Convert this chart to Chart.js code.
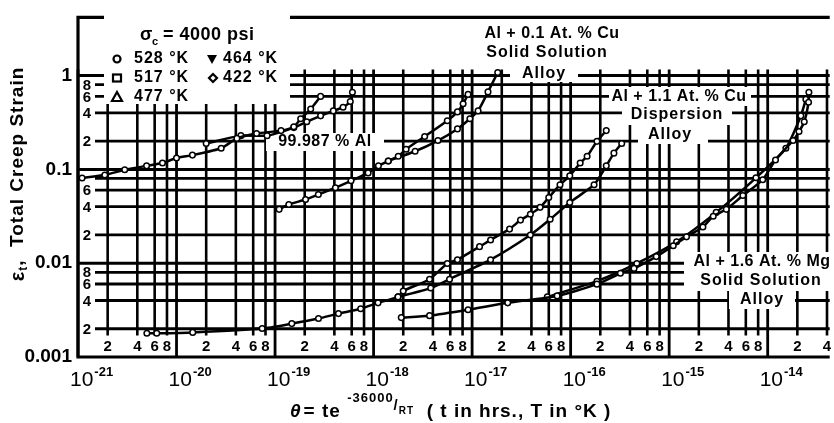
<!DOCTYPE html>
<html>
<head>
<meta charset="utf-8">
<script src="https://cdn.jsdelivr.net/npm/chart.js@4.4.1/dist/chart.umd.min.js"></script>
<style>
  html, body { margin: 0; padding: 0; background: #fff; }
  #wrap { width: 834px; height: 423px; }
</style>
</head>
<body>
<div id="wrap"><canvas id="chart" width="834" height="423"></canvas></div>
<script>
// Values: theta = t*exp(-36000/RT) (hrs) vs total creep strain

// 99.987 % Al
const alThetaA  = [1.1e-21, 1.87e-21, 2.98e-21, 4.97e-21, 7.2e-21, 1.0e-20, 1.45e-20, 2.84e-20, 4.1e-20, 6.5e-20, 1.15e-19, 1.55e-19, 1.82e-19, 2.3e-19, 2.9e-19];
const alStrainA = [0.081, 0.087, 0.099, 0.109, 0.117, 0.132, 0.142, 0.168, 0.214, 0.241, 0.259, 0.285, 0.346, 0.44, 0.60];
const alThetaB  = [2.0e-20, 4.5e-20, 8.3e-20, 1.55e-19, 2.1e-19, 2.9e-19, 3.9e-19, 4.9e-19, 5.8e-19, 6.1e-19];
const alStrainB = [0.189, 0.229, 0.229, 0.279, 0.322, 0.372, 0.42, 0.46, 0.53, 0.665];

// Al + 0.1 At.% Cu solid solution alloy
const cu01ThetaA  = [1.1e-19, 1.38e-19, 2.04e-19, 2.75e-19, 4.1e-19, 5.9e-19, 8.8e-19, 1.12e-18, 1.41e-18, 1.78e-18, 2.14e-18, 3.3e-18, 5.6e-18, 7.1e-18, 8.1e-18, 9.1e-18];
const cu01StrainA = [0.0375, 0.0423, 0.0477, 0.0539, 0.0638, 0.0756, 0.0917, 0.109, 0.123, 0.138, 0.164, 0.224, 0.33, 0.41, 0.50, 0.63];
const cu01ThetaB  = [1.41e-18, 2.64e-18, 4.5e-18, 7.1e-18, 9.5e-18, 1.15e-17, 1.45e-17, 1.82e-17];
const cu01StrainB = [0.123, 0.156, 0.203, 0.27, 0.346, 0.42, 0.67, 1.08];

// Al + 1.1 At.% Cu dispersion alloy
const cu11ThetaA  = [5.0e-21, 6.3e-21, 1.46e-20, 7.4e-20, 1.48e-19, 2.76e-19, 4.4e-19, 7.4e-19, 1.11e-18, 1.77e-18, 2.0e-18, 3.7e-18, 5.6e-18, 7.1e-18, 1.19e-17, 1.54e-17, 2.4e-17, 3.1e-17, 3.9e-17, 4.9e-17, 6.0e-17, 7.8e-17, 9.8e-17, 1.25e-16, 1.47e-16, 1.85e-16, 2.3e-16];
const cu11StrainA = [0.00179, 0.00179, 0.00183, 0.00201, 0.00227, 0.00257, 0.0029, 0.00327, 0.00378, 0.00437, 0.00505, 0.00675, 0.00993, 0.0109, 0.0150, 0.0177, 0.0231, 0.0288, 0.0333, 0.0394, 0.0501, 0.0686, 0.0853, 0.117, 0.138, 0.199, 0.259];
const cu11ThetaB  = [1.77e-18, 3.8e-18, 5.9e-18, 1.54e-17, 3.9e-17, 6.2e-17, 9.8e-17, 1.73e-16, 2.3e-16, 2.75e-16, 3.3e-16];
const cu11StrainB = [0.00437, 0.00543, 0.00675, 0.0109, 0.0200, 0.0294, 0.0444, 0.0686, 0.109, 0.149, 0.189];

// Al + 1.6 At.% Mg solid solution alloy
const mgThetaA  = [1.91e-18, 3.7e-18, 9.1e-18, 2.3e-17, 7.3e-17, 1.85e-16, 3.2e-16, 4.4e-16, 7.4e-16, 1.1e-15, 1.5e-15, 2.2e-15, 2.8e-15, 3.8e-15, 5.6e-15, 8.9e-15, 1.2e-14, 1.81e-14, 2.08e-14, 2.35e-14, 2.6e-14, 2.62e-14];
const mgStrainA = [0.00263, 0.00276, 0.00319, 0.00378, 0.00448, 0.00598, 0.0078, 0.0088, 0.01175, 0.01535, 0.0191, 0.0243, 0.0317, 0.0375, 0.0526, 0.0775, 0.126, 0.203, 0.253, 0.322, 0.52, 0.665];
const mgThetaB  = [5.8e-17, 1.85e-16, 4.7e-16, 1.19e-15, 3.0e-15, 7.6e-15, 1.53e-14, 2.17e-14, 2.44e-14];
const mgStrainB = [0.00437, 0.00643, 0.00993, 0.0169, 0.0348, 0.0813, 0.168, 0.372, 0.56];

// axis ranges and grid values
const thetaMin = 1e-21, thetaMax = 4.26e-14;
const strainMin = 0.001, strainMax = 4.17;
const xDecades = [-21, -20, -19, -18, -17, -16, -15, -14];
const xMinorMult = [2, 4, 6, 8];
const yMajor = [0.001, 0.01, 0.1, 1];
const yMajorLabels = ['0.001', '0.01', '0.1', '1'];
const yMinor = [0.002, 0.004, 0.006, 0.008, 0.02, 0.04, 0.06, 0.08, 0.2, 0.4, 0.6, 0.8];
const yMinorLabels = ['2', '4', '6', '8', '2', '4', '6', '', '2', '4', '6', '8'];
const gridTop = 1.16;

const FONT = '"Liberation Sans", Arial, sans-serif';

function pts(xs, ys) {
    return xs.map((x, i) => ({ x: x, y: ys[i] }));
}

function series(label, xs, ys) {
    return {
        label: label,
        data: pts(xs, ys),
        showLine: true,
        borderColor: '#000',
        borderWidth: 2.5,
        tension: 0.2,
        pointRadius: 2.8,
        pointHoverRadius: 2.8,
        pointBackgroundColor: '#fff',
        pointBorderColor: '#000',
        pointBorderWidth: 1.5,
    };
}

function text(ctx, s, x, y, size, align, spacing) {
    ctx.font = 'bold ' + size + 'px ' + FONT;
    ctx.letterSpacing = (spacing || 0) + 'px';
    ctx.textAlign = align || 'center';
    ctx.textBaseline = 'middle';
    ctx.fillText(s, x, y);
    ctx.letterSpacing = '0px';
}

// grid, frame, labels and notes drawn beneath the data
const paper = {
    id: 'paper',
    beforeDatasetsDraw(chart) {
        const { ctx, chartArea: a, scales: { x, y } } = chart;
        ctx.save();
        ctx.strokeStyle = '#000';
        ctx.fillStyle = '#000';

        const yTop = y.getPixelForValue(gridTop);
        const yStub = y.getPixelForValue(0.0017);

        // vertical grid
        xDecades.forEach(d => {
            const px = x.getPixelForValue(Math.pow(10, d));
            ctx.lineWidth = 2.8;
            ctx.beginPath(); ctx.moveTo(px, yTop); ctx.lineTo(px, a.bottom); ctx.stroke();
            xMinorMult.forEach(m => {
                const v = m * Math.pow(10, d);
                if (v > thetaMax) return;
                const mx = x.getPixelForValue(v);
                ctx.lineWidth = 2.6;
                ctx.beginPath(); ctx.moveTo(mx, yTop); ctx.lineTo(mx, yStub); ctx.stroke();
                text(ctx, String(m), mx, a.bottom - 10, 15);
            });
        });

        // horizontal grid
        yMajor.forEach(v => {
            if (v <= strainMin) return;
            const py = y.getPixelForValue(v);
            ctx.lineWidth = 3;
            ctx.beginPath(); ctx.moveTo(a.left, py); ctx.lineTo(a.right, py); ctx.stroke();
        });
        yMinor.forEach((v, i) => {
            const py = y.getPixelForValue(v);
            ctx.lineWidth = 2.8;
            ctx.beginPath(); ctx.moveTo(a.left + 17, py); ctx.lineTo(a.right, py); ctx.stroke();
            if (yMinorLabels[i]) text(ctx, yMinorLabels[i], a.left + 9, py + 1, 15);
        });

        // frame (right edge is cut off in the scan)
        ctx.lineWidth = 3.2;
        ctx.beginPath();
        ctx.moveTo(a.right, a.top); ctx.lineTo(a.left, a.top);
        ctx.lineTo(a.left, a.bottom); ctx.lineTo(a.right, a.bottom);
        ctx.stroke();

        // white patches behind the notes
        ctx.fillStyle = '#fff';
        const boxes = [
            [104, 15, 186, 89], [266, 133, 118, 18],
            [476, 22, 154, 42], [510, 64, 68, 18],
            [609, 87, 142, 19], [622, 106, 110, 19], [638, 125, 70, 19],
            [684, 252, 150, 39], [729, 291, 66, 18],
        ];
        boxes.forEach(b => ctx.fillRect(b[0], b[1], b[2], b[3]));
        ctx.fillStyle = '#000';

        // legend
        ctx.textAlign = 'left';
        ctx.textBaseline = 'middle';
        ctx.font = 'bold 18px ' + FONT;
        ctx.fillText('σ', 140, 35);
        ctx.font = 'bold 11px ' + FONT;
        ctx.fillText('c', 152, 42);
        text(ctx, '= 4000 psi', 163, 35, 18, 'left', 0.5);

        text(ctx, '528 °K', 134, 59, 16, 'left', 1);
        text(ctx, '464 °K', 223, 59, 16, 'left', 1);
        text(ctx, '517 °K', 134, 78, 16, 'left', 1);
        text(ctx, '422 °K', 223, 78, 16, 'left', 1);
        text(ctx, '477 °K', 134, 97, 16, 'left', 1);

        ctx.lineWidth = 2.2;
        ctx.beginPath(); ctx.arc(117, 59, 3.5, 0, Math.PI * 2); ctx.stroke();
        ctx.strokeRect(113, 74.5, 8, 7);
        ctx.beginPath(); ctx.moveTo(117, 92); ctx.lineTo(122, 101); ctx.lineTo(112, 101); ctx.closePath(); ctx.stroke();
        ctx.beginPath(); ctx.moveTo(207, 55); ctx.lineTo(217, 55); ctx.lineTo(212, 64); ctx.closePath(); ctx.fill();
        ctx.beginPath(); ctx.moveTo(213, 74); ctx.lineTo(217, 78); ctx.lineTo(213, 82); ctx.lineTo(209, 78); ctx.closePath(); ctx.stroke();

        // notes on the curves
        text(ctx, '99.987 % Al', 325, 142, 16, 'center', 0.5);
        text(ctx, 'Al + 0.1 At. % Cu', 552, 34, 16, 'center', 0.5);
        text(ctx, 'Solid Solution', 547, 53, 16, 'center', 1);
        text(ctx, 'Alloy', 544, 74, 16, 'center', 1);
        text(ctx, 'Al + 1.1 At. % Cu', 679, 97, 16, 'center', 0.5);
        text(ctx, 'Dispersion', 677, 115, 16, 'center', 1);
        text(ctx, 'Alloy', 670, 135, 16, 'center', 1);
        text(ctx, 'Al + 1.6 At. % Mg', 762, 262, 16, 'center', 0.5);
        text(ctx, 'Solid Solution', 761, 281, 16, 'center', 1);
        text(ctx, 'Alloy', 762, 300, 16, 'center', 1);

        ctx.restore();
    },
    afterDraw(chart) {
        const { ctx, scales: { x } } = chart;
        ctx.save();
        ctx.fillStyle = '#000';
        ctx.textBaseline = 'alphabetic';
        ctx.textAlign = 'left';

        // decade labels 10^n
        xDecades.forEach(d => {
            const px = x.getPixelForValue(Math.pow(10, d));
            ctx.font = '21px ' + FONT;
            ctx.fillText('10', px - 8, 386);
            const w = ctx.measureText('10').width;
            ctx.font = 'bold 13px ' + FONT;
            ctx.fillText('-' + Math.abs(d), px - 7 + w, 376);
        });

        // x title
        let cx = 290;
        ctx.letterSpacing = '1px';
        const put = (s, size, dy) => {
            ctx.font = 'bold ' + size + 'px ' + FONT;
            ctx.fillText(s, cx, 417 + dy);
            cx += ctx.measureText(s).width;
        };
        ctx.font = 'italic bold 19px ' + FONT;
        ctx.fillText('θ', cx, 417);
        cx += ctx.measureText('θ').width + 2;
        put('= te ', 19, 0);
        put('-36000', 13, -15);
        put('/', 15, -7);
        put('RT', 10, -3);
        put('  ( t in hrs., T in °K )', 19, 0);

        // y title, rotated
        ctx.letterSpacing = '1px';
        ctx.translate(18, 174);
        ctx.rotate(-Math.PI / 2);
        ctx.font = 'bold 20px ' + FONT;
        const w1 = ctx.measureText('ε').width;
        ctx.font = 'bold 12px ' + FONT;
        const w2 = ctx.measureText('t').width;
        ctx.font = 'bold 19px ' + FONT;
        const rest = ',  Total Creep Strain';
        const w3 = ctx.measureText(rest).width;
        let sx = -(w1 + w2 + w3) / 2;
        ctx.textBaseline = 'middle';
        ctx.font = 'bold 20px ' + FONT;
        ctx.fillText('ε', sx, 0); sx += w1;
        ctx.font = 'bold 12px ' + FONT;
        ctx.fillText('t', sx, 6); sx += w2;
        ctx.font = 'bold 19px ' + FONT;
        ctx.fillText(rest, sx, 0);

        ctx.restore();
    }
};

const chart = new Chart(document.getElementById('chart').getContext('2d'), {
    type: 'scatter',
    data: {
        datasets: [
            series('99.987 % Al (a)', alThetaA, alStrainA),
            series('99.987 % Al (b)', alThetaB, alStrainB),
            series('Al + 0.1 At.% Cu (a)', cu01ThetaA, cu01StrainA),
            series('Al + 0.1 At.% Cu (b)', cu01ThetaB, cu01StrainB),
            series('Al + 1.1 At.% Cu (a)', cu11ThetaA, cu11StrainA),
            series('Al + 1.1 At.% Cu (b)', cu11ThetaB, cu11StrainB),
            series('Al + 1.6 At.% Mg (a)', mgThetaA, mgStrainA),
            series('Al + 1.6 At.% Mg (b)', mgThetaB, mgStrainB),
        ],
    },
    options: {
        responsive: false,
        animation: false,
        layout: { padding: { top: 12, right: 0, left: 0, bottom: 0 } },
        plugins: {
            legend: { display: false },
            tooltip: { enabled: false },
        },
        scales: {
            x: {
                type: 'logarithmic',
                min: thetaMin,
                max: thetaMax,
                grid: { display: false, drawTicks: false },
                border: { display: false },
                ticks: { display: false },
                afterFit: s => { s.height = 66; },
            },
            y: {
                type: 'logarithmic',
                min: strainMin,
                max: strainMax,
                grid: { display: false, drawTicks: false },
                border: { display: false },
                afterBuildTicks: s => { s.ticks = yMajor.map(v => ({ value: v })); },
                ticks: {
                    color: '#000',
                    padding: 6,
                    font: { family: FONT, size: 19, weight: 'bold' },
                    callback: v => yMajorLabels[yMajor.indexOf(v)] || '',
                },
                afterFit: s => { s.width = 78; },
            },
        },
    },
    plugins: [paper],
});
</script>
</body>
</html>
